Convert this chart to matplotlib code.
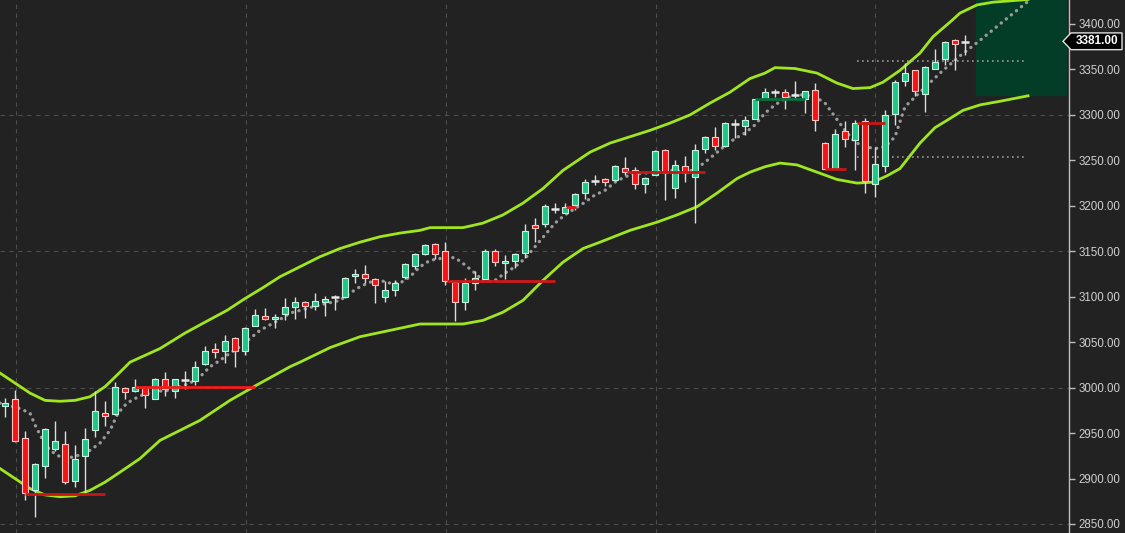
import numpy as np
import matplotlib.pyplot as plt
from matplotlib.patches import Rectangle, Polygon
from matplotlib.transforms import blended_transform_factory

plt.rcParams['font.family'] = ['Liberation Sans', 'DejaVu Sans']

# daily candles
opens = [2980, 2987, 2945, 2887, 2914, 2933, 2938, 2897, 2925, 2953,
         2972, 2971, 3000, 2996, 3001, 2988, 3010, 2996, 3008.5, 3007,
         3026, 3042, 3040, 3055, 3040, 3068, 3079, 3075, 3081, 3089,
         3094.5, 3090, 3094, 3099.5, 3100, 3123, 3125, 3120, 3100, 3107,
         3122, 3134, 3147, 3158, 3150, 3116, 3094, 3115, 3120, 3150,
         3137, 3139, 3148, 3179, 3180, 3196.5, 3192, 3201, 3214, 3227.5,
         3229.5, 3228, 3242, 3239, 3224, 3234, 3261, 3220, 3244, 3232,
         3262, 3276, 3266, 3289.5, 3288, 3295, 3317, 3325.5, 3325, 3322,
         3317, 3327, 3269, 3241, 3282, 3272, 3293, 3224, 3244, 3301,
         3337, 3349, 3323, 3351, 3361, 3382, 3380.5]
highs = [2989, 2997, 2952, 2917, 2956, 2963, 2952, 2937, 2956, 2996,
         2985, 3006, 3001, 3010, 3002, 3011, 3017, 3010, 3018, 3029,
         3046, 3049, 3058, 3056, 3067, 3086, 3088, 3081, 3099, 3100,
         3095, 3104, 3101, 3102, 3122, 3130, 3135, 3121, 3117, 3118,
         3137, 3148, 3158, 3159, 3160, 3117, 3121, 3128, 3153, 3153,
         3146, 3148, 3180, 3187, 3202, 3203, 3203, 3214, 3230, 3234,
         3231, 3245, 3254, 3243, 3232, 3261, 3263, 3250, 3255, 3268,
         3277, 3287, 3292, 3296, 3299, 3318, 3330, 3329, 3329, 3337,
         3326, 3335, 3270, 3284, 3293, 3294, 3297, 3265, 3305, 3338,
         3357, 3349, 3354, 3373, 3381, 3384, 3388]
lows = [2968, 2940, 2876, 2858, 2901, 2930, 2894, 2891, 2884, 2946,
        2958, 2970, 2988, 2995, 2978, 2987, 2991, 2989, 2999, 3003,
        3025, 3033, 3027, 3023, 3036, 3068, 3074, 3066, 3074, 3076,
        3077, 3085, 3079, 3085, 3099, 3115, 3115, 3093, 3094, 3101,
        3119, 3131, 3146, 3142, 3113, 3073, 3085, 3107, 3120, 3134,
        3119, 3132, 3143, 3160, 3177, 3192, 3192, 3195, 3208, 3223,
        3222, 3227, 3234, 3218, 3214, 3234, 3206, 3209, 3226, 3181,
        3258, 3261, 3265, 3275, 3278, 3295, 3317, 3320, 3307, 3317,
        3302, 3282, 3240, 3240, 3265, 3239, 3214, 3210, 3237, 3289,
        3332, 3321, 3303, 3350, 3355, 3349, 3366]
closes = [2983, 2941, 2884, 2916, 2954, 2941, 2896, 2922, 2944, 2974,
          2969, 3001, 2995, 3001, 2992, 3010, 2999, 3009, 3009, 3023,
          3040, 3039, 3051, 3040, 3066, 3080, 3075, 3078, 3089, 3094.5,
          3090, 3095, 3098, 3100, 3121, 3125, 3121, 3113, 3107, 3115,
          3136, 3147, 3157, 3147, 3117, 3094, 3115, 3121, 3150, 3138,
          3139, 3147, 3172, 3176, 3200, 3197, 3199, 3213, 3226, 3228,
          3226, 3244, 3237.5, 3224, 3231, 3260, 3236, 3245, 3236, 3261,
          3276, 3266, 3291, 3290, 3294, 3317, 3325, 3326, 3320, 3322.5,
          3326, 3294, 3240, 3279, 3273, 3291, 3227, 3246, 3300, 3336,
          3346, 3326, 3353, 3358, 3380, 3378, 3381]

# envelope bands (bar index, price)
upper_x = [-0.5, 1.0, 2.5, 4.0, 5.5, 7.0, 8.5, 10.0, 11.5, 12.5, 15.5, 18.0,
           20.0, 22.2, 24.0, 25.8, 27.5, 29.5, 31.5, 33.5, 35.5, 37.5, 39.5,
           41.5, 42.5, 45.8, 47.8, 49.8, 51.8, 53.8, 55.8, 58.5, 60.5, 62.5,
           64.5, 66.5, 68.5, 70.5, 72.5, 74.5, 76.0, 77.0, 79.0, 81.2, 83.2,
           84.8, 86.5, 87.8, 89.5, 91.5, 92.8, 94.7, 95.5, 97.2, 98.8, 102.3]
upper_y = [3016, 3005, 2994, 2986, 2985, 2986, 2990, 3001, 3017, 3028, 3043,
           3060, 3072, 3085, 3098, 3110, 3122, 3133, 3144, 3153, 3160, 3166,
           3170, 3173, 3176, 3176, 3181, 3190, 3203, 3219, 3239, 3259, 3269,
           3276, 3283, 3291, 3300, 3313, 3325, 3340, 3346, 3352, 3351, 3346,
           3335, 3329, 3330, 3336, 3349, 3368, 3386, 3404, 3412, 3421, 3424,
           3427]
lower_x = [-0.5, 1.0, 2.5, 4.0, 5.5, 7.0, 8.5, 10.0, 11.5, 13.5, 15.5, 19.5,
           22.5, 25.2, 28.5, 29.5, 32.5, 35.5, 38.5, 41.5, 45.8, 47.8, 49.8,
           51.8, 53.8, 55.8, 57.8, 59.5, 62.5, 65.2, 67.2, 69.2, 71.2, 73.2,
           74.5, 76.0, 77.5, 79.2, 81.2, 83.2, 85.2, 86.8, 88.2, 89.5, 91.5,
           93.0, 94.2, 95.8, 97.5, 99.5, 102.3]
lower_y = [2911, 2900, 2889, 2882, 2880, 2881, 2887, 2896, 2907, 2922, 2942,
           2964, 2986, 3003, 3023, 3028, 3044, 3056, 3063, 3070, 3070, 3074,
           3083, 3096, 3118, 3138, 3153, 3160, 3173, 3182, 3190, 3199, 3214,
           3230, 3237, 3243, 3247, 3245, 3237, 3229, 3225, 3226, 3233, 3241,
           3269, 3286, 3294, 3305, 3311, 3315, 3321]

# dotted moving average (bar index, price)
ma_x = [-0.5, 1.5, 2.5, 3.0, 3.7, 4.5, 5.5, 6.5, 7.5, 8.5, 9.5, 10.5, 11.3,
        12.2, 13.5, 15.2, 16.5, 18.5, 19.5, 20.5, 21.5, 22.5, 23.5, 24.5,
        25.5, 26.5, 27.5, 28.5, 29.5, 31.5, 33.5, 34.5, 35.5, 36.5, 37.5,
        38.5, 39.5, 40.5, 41.5, 42.5, 44, 45, 46, 47, 48, 49, 50, 51, 52, 53,
        54, 55, 56, 57, 58, 59, 60, 61, 62, 63, 64, 65, 66, 67, 68, 69, 70,
        71, 72, 73, 74, 75, 76, 77, 78, 79, 80, 81, 82, 83, 84, 85, 86, 87,
        88, 89, 90, 91.5, 93.5, 95.5, 97.5, 99.5, 102.2]
ma_y = [2983, 2977, 2972, 2959, 2944, 2931, 2924, 2923, 2926, 2931, 2939,
        2953, 2972, 2983, 2991, 2996, 2997, 3005, 3012, 3023, 3030, 3038,
        3045, 3054, 3063, 3069, 3075, 3082, 3085, 3091, 3096, 3104, 3111,
        3116, 3118, 3115, 3115, 3122, 3133, 3140, 3143, 3143, 3135, 3126,
        3116, 3118, 3126, 3133, 3142, 3155, 3168, 3181, 3190, 3197, 3204,
        3212, 3217, 3226, 3232, 3235, 3236, 3237, 3239, 3239, 3237, 3240,
        3248, 3257, 3266, 3274, 3280, 3289, 3302, 3311, 3318, 3322, 3322,
        3320, 3313, 3298, 3283, 3270, 3265, 3263, 3265, 3276, 3309, 3325,
        3346, 3365, 3382, 3400, 3424]

# horizontal level segments
level_start = [2.0, 13.0, 44.2, 62.2, 82.0, 85.2, 75.0, 56.1]
level_end = [10.0, 25.0, 55.0, 70.0, 84.1, 88.0, 80.0, 57.1]
level_price = [2883, 3001, 3117, 3237.5, 3240, 3291, 3317, 3199]
level_color = ['#c81616', '#f21b1b', '#d01818', '#c81616', '#c81616',
               '#c81616', '#0b6e3d', '#e01818']
dotted_levels = [3359.5, 3254]
dotted_span = (85.2, 102.0)
month_lines = [1.07, 24.07, 44.07, 65.07, 87.0]
target_box = (97.1, 106.1, 3322, 3430)

bg = '#222222'
fig = plt.figure(figsize=(11.25, 5.33), dpi=100, facecolor=bg)
ax = fig.add_axes([0, 0, 1069 / 1125, 1])
ax.set_facecolor(bg)

for y in [2850, 3000, 3150, 3300]:
    ax.axhline(y, color='#4c4c4c', lw=0.8, ls=(0, (4, 4)), zorder=0)
for x in month_lines:
    ax.axvline(x, color='#4c4c4c', lw=0.8, ls=(0, (4, 4)), zorder=0)

x0, x1, y0, y1 = target_box
ax.add_patch(Rectangle((x0, y0), x1 - x0, y1 - y0, color='#033d28', zorder=1))

ax.plot(upper_x, upper_y, color='#a0e61e', lw=2, zorder=2)
ax.plot(lower_x, lower_y, color='#a0e61e', lw=2, zorder=2)
ax.plot(ma_x, ma_y, color='#9a9a9a', lw=2.4, ls=(0, (0.05, 1.9)),
        dash_capstyle='round', zorder=2)
for p in dotted_levels:
    ax.hlines(p, *dotted_span, color='#9a9a9a', lw=1.2, ls=(0, (1, 2)), zorder=2)

idx = np.arange(len(opens))
o = np.array(opens)
c = np.array(closes)
doji = np.abs(c - o) <= 1.0
up = (c > o) & ~doji
dn = (c < o) & ~doji

ax.vlines(idx, lows, highs, color='#dcdcdc', lw=1, zorder=3)
ax.bar(idx[up], (c - o)[up], bottom=o[up], width=0.68, color='#1fc68a',
       edgecolor='#c9f2df', lw=0.8, zorder=4)
ax.bar(idx[dn], (o - c)[dn], bottom=c[dn], width=0.68, color='#f41414',
       edgecolor='#ffc4c4', lw=0.8, zorder=4)
ax.hlines(((o + c) / 2)[doji], idx[doji] - 0.38, idx[doji] + 0.38,
          color='#e6e6e6', lw=1.8, zorder=4)

for s, e, p, col in zip(level_start, level_end, level_price, level_color):
    ax.hlines(p, s, e, color=col, lw=2, zorder=5)

ax.set_xlim(-0.5, 106.4)
ax.set_ylim(2840.1, 3426.4)
ax.set_xticks([])
ax.yaxis.tick_right()
ax.set_yticks(np.arange(2850, 3401, 50))
ax.set_yticklabels([f'{v:.2f}' for v in np.arange(2850, 3401, 50)])
ax.tick_params(axis='y', colors='#bdbdbd', labelcolor='#d0d0d0',
               labelsize=8.3, length=4, width=1, pad=3)
for side in ['top', 'left', 'bottom']:
    ax.spines[side].set_visible(False)
ax.spines['right'].set_color('#bdbdbd')
ax.spines['right'].set_linewidth(1)

# last price tag
last = closes[-1]
tr = blended_transform_factory(fig.transFigure, ax.transData)
h = 9.2
tag = Polygon([(1063 / 1125, last), (1071 / 1125, last + h), (1122 / 1125, last + h),
               (1122 / 1125, last - h), (1071 / 1125, last - h)],
              closed=True, transform=tr, facecolor='black', edgecolor='#e0e0e0',
              lw=1, clip_on=False, zorder=10)
fig.patches.append(tag)
fig.text(1097 / 1125, last, f'{last:.2f}', transform=tr, color='white',
         fontsize=8.5, fontweight='bold', ha='center', va='center', zorder=11)

fig.savefig('out.png', dpi=100, facecolor=bg)
